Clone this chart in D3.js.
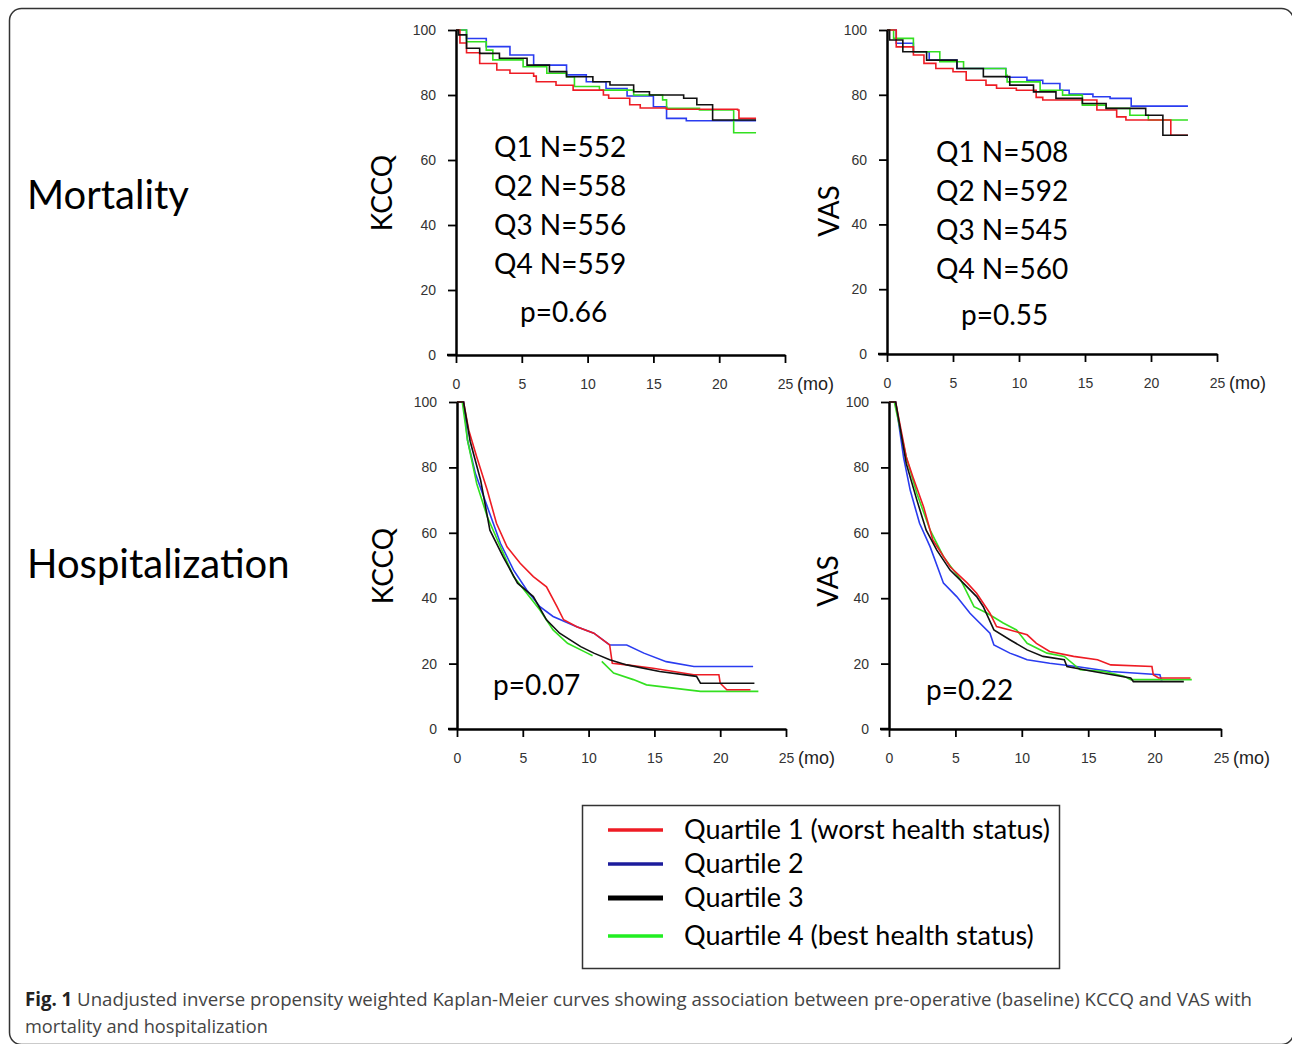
<!DOCTYPE html>
<html>
<head>
<meta charset="utf-8">
<script src="https://cdn.jsdelivr.net/npm/d3@7"></script>
<style>
  body { margin: 0; background: #fff; }
  svg { display: block; }
</style>
</head>
<body>
<div id="chart"></div>
<script>
// Kaplan-Meier curves: [month, % event free]
var quartileNames = ["Quartile 1 (worst health status)", "Quartile 2", "Quartile 3", "Quartile 4 (best health status)"];
var lineColors = ["#ee1c24", "#2a3cf0", "#111111", "#33e020"];
var legendColors = ["#ee1c24", "#1c1c9c", "#000000", "#22ee22"];
var xTicks = [0, 5, 10, 15, 20, 25];
var yTicks = [0, 20, 40, 60, 80, 100];

var mortKccq1 = [[0,100],[0.3,96],[0.8,93],[1.8,89.7],[3.1,87.7],[4.1,86.7],[5.9,85.8],[6.1,84.1],[7.6,83],[8.9,81.5],[11.2,80],[11.6,79],[13.2,77],[14,76],[16,75.6],[21.4,75.4],[21.5,72.8],[22.8,72.8]];
var mortKccq2 = [[0,100],[0.8,97.4],[2.3,94.9],[4.1,92.3],[5.9,89.2],[8.4,86.2],[9.9,84.1],[11.4,82],[13,79.7],[15,76.4],[16,72.8],[17.5,72.1],[22.8,72.1]];
var mortKccq3 = [[0,100],[0.2,98.5],[0.8,94.4],[1.8,92.8],[3.3,91.3],[5.4,89.2],[7.1,87.2],[8.4,85.6],[10.4,84.1],[11.7,83.1],[13.5,81],[14.7,80],[17.3,79],[18.3,77],[19.5,72.3],[22.8,72.3]];
var mortKccq4 = [[0,100],[0.8,96.4],[2.3,93.8],[2.8,90.8],[5.1,88.7],[6.9,86.7],[8.4,85.6],[9,82.6],[10.9,81.5],[13.5,80],[15.7,78.5],[16,75.9],[18.5,75.4],[21.1,68.4],[22.8,68.4]];

var mortVas1 = [[0,100],[0.7,94.8],[2,92.3],[2.8,89.7],[3.7,88.1],[5,87.1],[6,84.5],[7.5,83],[8.3,82],[9.8,81.4],[11.3,79.2],[11.8,78.4],[13.3,78.4],[15.9,75.3],[17.4,73.2],[18.1,72.2],[21.5,67.5],[22.8,67.5]];
var mortVas2 = [[0,100],[0.7,95.9],[2,93.3],[3.2,90.7],[5.3,88.1],[9,85.4],[10.6,84.5],[11.8,83.5],[13.1,81.4],[13.8,80.2],[15.6,79.4],[16.9,78.9],[18.5,76.5],[22.8,76.5]];
var mortVas3 = [[0,100],[0.2,96.9],[1.2,93.3],[3,90.7],[5.3,88.1],[7.3,85.6],[9.3,83],[11.1,80.9],[12.8,78.9],[14.8,77.3],[16.6,75.8],[19.6,73.7],[20.9,67.5],[22.8,67.5]];
var mortVas4 = [[0,100],[0.5,97.4],[2,93.3],[4,90.2],[5.8,88.1],[9,86],[9.1,84],[11.6,81.4],[13.3,79.9],[14.8,76.8],[16.6,75.8],[18.4,73.7],[19.8,72.2],[22.8,72.2]];

var hospKccq1 = [[0,100],[0.5,100],[0.9,91.3],[1.5,83.2],[2.3,73],[3,62.9],[3.8,55.7],[4.8,50.7],[5.8,46.6],[6.8,43.5],[7.6,37.4],[8.1,33.4],[9.1,31.3],[10.4,29.3],[11.6,25.7],[11.8,20.1],[12.9,19.6],[14.9,18.6],[18,16.6],[19.9,16.6],[20,14],[20.5,12],[22.3,12]];
var hospKccq2 = [[0,100],[0.5,100],[0.8,88.3],[1.4,78.1],[2.3,68],[3.3,56.8],[4.3,48.6],[5.3,42.5],[6.3,37.4],[7.3,34.4],[9.1,31.3],[10.4,29.3],[11.6,25.7],[12.9,25.7],[14.2,23.2],[15.9,20.6],[18,19.1],[22.5,19.1]];
var hospKccq3 = [[0,100],[0.5,100],[1,88],[1.8,76],[2.5,60.8],[3.5,52.7],[4.6,44.6],[5.8,40.5],[6.8,33.4],[7.8,29.3],[9.4,25.2],[10.4,23.2],[11.6,21.2],[12.9,19.6],[15.4,17.6],[18.2,16.1],[18.5,14],[22.6,14]];
var hospKccq4 = [[0,100],[0.4,100],[0.8,88.3],[1.5,75],[2.3,64.9],[3.3,55.7],[4.3,46.6],[5.3,41.5],[6.3,36.4],[7.3,30.3],[8.4,26.2],[9.9,23.2],[10.3,22.4],[null,null],[11,20.7],[11.9,17.1],[13.4,15.1],[14.4,13.5],[18.5,11.5],[22.9,11.5]];

var hospVas1 = [[0,100],[0.5,100],[1.3,83.2],[1.8,77.1],[2.6,68],[3.3,57.8],[4.6,49.6],[5.9,44.6],[6.6,41.5],[7.6,35.4],[8.1,31.3],[9.1,30.3],[10.4,28.8],[11.1,26.2],[12.1,23.7],[13.9,22.2],[15.7,21.2],[16.7,19.6],[19.8,19.1],[19.9,16.6],[20.3,15.6],[22.7,15.6]];
var hospVas2 = [[0,100],[0.5,100],[1.1,83],[1.6,73],[2.3,62.9],[3.1,55.7],[4.1,44.6],[5.1,40.5],[6.1,35.4],[7.6,29.3],[7.9,25.7],[9.1,23.2],[10.4,21.2],[12.1,20.1],[14.1,19.1],[16.7,17.6],[20.4,16.6],[20.5,15.1],[20.6,15.1]];
var hospVas3 = [[0,100],[0.5,100],[1.3,81.2],[2.1,70],[2.8,60.8],[3.6,54.7],[4.6,48.6],[5.6,44.6],[6.6,40.5],[7.1,37.4],[7.9,30.3],[9.1,27.3],[10.4,24.2],[11.6,22.2],[13.2,21.2],[13.4,19.1],[15.4,17.6],[18.2,15.6],[18.4,14.5],[22.2,14.5]];
var hospVas4 = [[0,100],[0.4,100],[1.3,83.2],[2.1,72],[3.1,60.8],[4.1,52.7],[5.4,45.6],[6.4,37.4],[7.4,35.4],[8.6,32.4],[9.6,30.3],[10.4,26.2],[11.9,23.2],[13.2,22.2],[14.4,18.1],[16.2,17.6],[17.7,16.1],[18.2,15.1],[22.8,15.1]];

var nLabelsKccq = ["Q1 N=552", "Q2 N=558", "Q3 N=556", "Q4 N=559"];
var nLabelsVas = ["Q1 N=508", "Q2 N=592", "Q3 N=545", "Q4 N=560"];

var panels = [
  {x0: 456, x1: 785, y0: 30, y1: 355, series: [mortKccq1, mortKccq2, mortKccq3, mortKccq4], step: true,
   title: "KCCQ", tx: 392, ty: 193, nl: nLabelsKccq, nx: 494, ny: 157, p: "p=0.66", px: 520, py: 322},
  {x0: 887, x1: 1217, y0: 30, y1: 354, series: [mortVas1, mortVas2, mortVas3, mortVas4], step: true,
   title: "VAS", tx: 839, ty: 211, nl: nLabelsVas, nx: 936, ny: 162, p: "p=0.55", px: 961, py: 325},
  {x0: 457, x1: 786, y0: 402, y1: 729, series: [hospKccq1, hospKccq2, hospKccq3, hospKccq4], step: false,
   title: "KCCQ", tx: 393, ty: 566, nl: null, p: "p=0.07", px: 493, py: 695},
  {x0: 889, x1: 1221, y0: 402, y1: 729, series: [hospVas1, hospVas2, hospVas3, hospVas4], step: false,
   title: "VAS", tx: 838, ty: 581, nl: null, p: "p=0.22", px: 926, py: 700}
];

var w = 1292, h = 1044;
var svg = d3.select("#chart").append("svg")
  .attr("width", w)
  .attr("height", h);

// outer frame
svg.append("rect")
  .attr("x", 9.5).attr("y", 8.5)
  .attr("width", 1284).attr("height", 1036)
  .attr("rx", 12)
  .attr("fill", "none")
  .attr("stroke", "#333")
  .attr("stroke-width", 1.5);

var bigFont = "Lato, 'Open Sans', sans-serif";

svg.append("text").attr("x", 27).attr("y", 209)
  .attr("font-family", bigFont).attr("font-size", 40).attr("fill", "#000")
  .text("Mortality");
svg.append("text").attr("x", 27).attr("y", 578)
  .attr("font-family", bigFont).attr("font-size", 40).attr("fill", "#000")
  .text("Hospitalization");

panels.forEach(function(p) {
  var x = d3.scaleLinear().domain([0, 25]).range([p.x0, p.x1]);
  var y = d3.scaleLinear().domain([0, 100]).range([p.y1, p.y0]);
  var g = svg.append("g");

  var line = d3.line()
    .defined(function(d) { return d[0] != null; })
    .x(function(d) { return x(d[0]); })
    .y(function(d) { return y(d[1]); })
    .curve(p.step ? d3.curveStepAfter : d3.curveLinear);

  // draw Q2, Q4, Q1, Q3 order so black sits near top like the figure
  [1, 3, 0, 2].forEach(function(i) {
    g.append("path")
      .datum(p.series[i])
      .attr("d", line)
      .attr("fill", "none")
      .attr("stroke", lineColors[i])
      .attr("stroke-width", 1.6);
  });

  var xAxis = g.append("g")
    .attr("transform", "translate(0," + p.y1 + ")")
    .call(d3.axisBottom(x).tickValues(xTicks).tickSize(8).tickSizeOuter(0).tickPadding(16));
  var yAxis = g.append("g")
    .attr("transform", "translate(" + p.x0 + ",0)")
    .call(d3.axisLeft(y).tickValues(yTicks).tickSize(8).tickSizeOuter(0).tickPadding(12));

  [xAxis, yAxis].forEach(function(a) {
    a.select(".domain").attr("stroke", "#000").attr("stroke-width", 2.5);
    a.selectAll(".tick line").attr("stroke", "#000").attr("stroke-width", 1.8);
    a.selectAll(".tick text")
      .attr("font-family", "'Liberation Sans', Arial, sans-serif")
      .attr("font-size", 14).attr("fill", "#333");
  });
  // x axis line runs a bit past the y axis
  g.append("line").attr("x1", p.x0 - 9).attr("x2", p.x0).attr("y1", p.y1).attr("y2", p.y1)
    .attr("stroke", "#000").attr("stroke-width", 2.5);

  g.append("text")
    .attr("x", p.x1 + 12).attr("y", p.y1 + 35)
    .attr("font-family", "'Liberation Sans', Arial, sans-serif")
    .attr("font-size", 18).attr("fill", "#222")
    .text("(mo)");

  g.append("text")
    .attr("transform", "translate(" + p.tx + "," + p.ty + ") rotate(-90)")
    .attr("text-anchor", "middle")
    .attr("font-family", bigFont).attr("font-size", 28).attr("fill", "#000")
    .text(p.title);

  if (p.nl) {
    g.selectAll("text.nl")
      .data(p.nl)
      .enter()
      .append("text")
      .attr("class", "nl")
      .attr("x", p.nx)
      .attr("y", function(d, i) { return p.ny + i * 39; })
      .attr("font-family", bigFont).attr("font-size", 28).attr("fill", "#000")
      .text(function(d) { return d; });
  }
  g.append("text")
    .attr("x", p.px).attr("y", p.py)
    .attr("font-family", bigFont).attr("font-size", 28).attr("fill", "#000")
    .text(p.p);
});

// legend
var legend = svg.append("g");
legend.append("rect")
  .attr("x", 582.5).attr("y", 805.5)
  .attr("width", 477).attr("height", 163)
  .attr("fill", "#fff")
  .attr("stroke", "#333")
  .attr("stroke-width", 1.5);

var legendRows = [830, 864, 898, 936];
var legendWidths = [3.5, 3.5, 5, 3.5];
legend.selectAll("line.key")
  .data(quartileNames)
  .enter()
  .append("line")
  .attr("class", "key")
  .attr("x1", 608).attr("x2", 663)
  .attr("y1", function(d, i) { return legendRows[i]; })
  .attr("y2", function(d, i) { return legendRows[i]; })
  .attr("stroke", function(d, i) { return legendColors[i]; })
  .attr("stroke-width", function(d, i) { return legendWidths[i]; });

legend.selectAll("text.key")
  .data(quartileNames)
  .enter()
  .append("text")
  .attr("class", "key")
  .attr("x", 684)
  .attr("y", function(d, i) { return legendRows[i] + 9; })
  .attr("font-family", bigFont).attr("font-size", 27).attr("fill", "#000")
  .text(function(d) { return d; });

// caption
var cap1 = svg.append("text").attr("x", 25).attr("y", 1006)
  .attr("font-family", "'Open Sans', sans-serif").attr("font-size", 19).attr("fill", "#444")
  .attr("textLength", 1227).attr("lengthAdjust", "spacingAndGlyphs");
cap1.append("tspan").attr("font-weight", "bold").attr("fill", "#222").text("Fig. 1");
cap1.append("tspan").text(" Unadjusted inverse propensity weighted Kaplan-Meier curves showing association between pre-operative (baseline) KCCQ and VAS with");
svg.append("text").attr("x", 25).attr("y", 1033)
  .attr("font-family", "'Open Sans', sans-serif").attr("font-size", 19).attr("fill", "#444")
  .attr("textLength", 243).attr("lengthAdjust", "spacingAndGlyphs")
  .text("mortality and hospitalization");
</script>
</body>
</html>
